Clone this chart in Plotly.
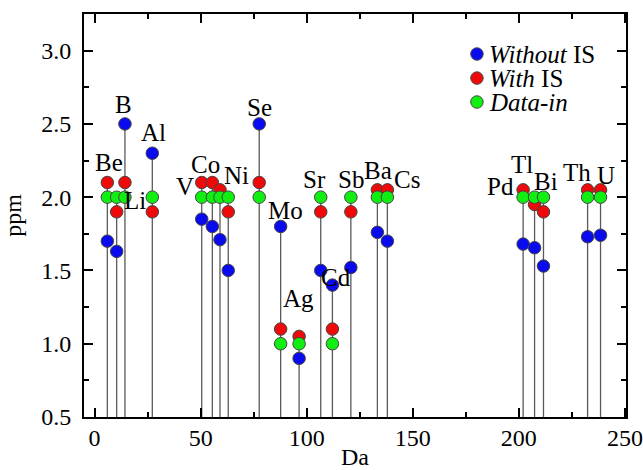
import plotly.graph_objects as go

# Data
mass = [6.0, 10.4, 14.3, 27.2, 50.5, 55.5, 59.1, 63.0, 77.6, 87.7, 96.4,
        106.6, 112.1, 120.8, 133.3, 138.0, 202.0, 207.4, 211.6, 232.4, 238.5]
without_is = [1.70, 1.63, 2.50, 2.30, 1.85, 1.80, 1.71, 1.50, 2.50, 1.80, 0.90,
              1.50, 1.40, 1.52, 1.76, 1.70, 1.68, 1.655, 1.53, 1.73, 1.74]
with_is = [2.10, 1.90, 2.10, 1.90, 2.10, 2.10, 2.05, 1.90, 2.10, 1.10, 1.05,
           1.90, 1.10, 1.90, 2.05, 2.05, 2.05, 1.95, 1.90, 2.05, 2.05]
data_in = [2.0, 2.0, 2.0, 2.0, 2.0, 2.0, 2.0, 2.0, 2.0, 1.0, 1.0,
           2.0, 1.0, 2.0, 2.0, 2.0, 2.0, 2.0, 2.0, 2.0, 2.0]

series_names = ["<i>Without</i> IS", "<i>With</i> IS", "<i>Data-in</i>"]
series_colors = ["#0a0aee", "#ee0a0a", "#11ee11"]

element_labels = ["Be", "B", "Al", "Li", "V", "Co", "Ni", "Se", "Mo", "Ag", "Sr",
                  "Cd", "Sb", "Ba", "Cs", "Pd", "Tl", "Bi", "Th", "U"]
label_x = [6.6, 13.7, 27.8, 18.9, 42.5, 52.4, 67.0, 77.8, 90.0, 96.2, 103.8,
           113.7, 120.8, 133.5, 147.2, 191.3, 201.7, 212.7, 227.4, 241.0]
label_y = [2.24, 2.63, 2.44, 1.98, 2.07, 2.22, 2.15, 2.61, 1.91, 1.31, 2.12,
           1.45, 2.12, 2.18, 2.12, 2.075, 2.22, 2.11, 2.17, 2.15]

x_ticks = [0, 50, 100, 150, 200, 250]
y_ticks = [0.5, 1.0, 1.5, 2.0, 2.5, 3.0]
y_tick_text = ["0.5", "1.0", "1.5", "2.0", "2.5", "3.0"]

FONT = "Liberation Serif"

fig = go.Figure()

# drop lines from the highest value of each column down to the axis
line_x, line_y = [], []
for m, a, b, c in zip(mass, without_is, with_is, data_in):
    line_x += [m, m, None]
    line_y += [max(a, b, c), 0.5, None]
fig.add_trace(go.Scatter(x=line_x, y=line_y, mode="lines",
                         line=dict(color="#5a5a5a", width=1.3),
                         showlegend=False, hoverinfo="skip"))

marker_line = dict(color="#444444", width=1)
for vals, nm, col in zip([without_is, with_is, data_in], series_names, series_colors):
    fig.add_trace(go.Scatter(x=mass, y=vals, mode="markers", name=nm,
                             showlegend=False,
                             marker=dict(size=12.5, color=col, line=marker_line)))

for t, lx, ly in zip(element_labels, label_x, label_y):
    fig.add_annotation(x=lx, y=ly, text=t, showarrow=False,
                       font=dict(family=FONT, size=25, color="black"))

# legend (drawn as shapes + text to match the compact spacing)
leg_y = [0.9007, 0.841, 0.7816]
for nm, col, ly in zip(series_names, series_colors, leg_y):
    fig.add_shape(type="circle", xref="paper", yref="paper",
                  x0=0.725 - 0.0115, x1=0.725 + 0.0115,
                  y0=ly - 0.0155, y1=ly + 0.0155,
                  fillcolor=col, line=dict(color="#444444", width=1))
    fig.add_annotation(xref="paper", yref="paper", x=0.746, y=ly,
                       xanchor="left", yanchor="middle", text=nm, showarrow=False,
                       borderpad=0,
                       font=dict(family=FONT, size=25, color="black"))

axis_common = dict(
    showline=True, linecolor="black", linewidth=2, mirror="ticks",
    ticks="inside", ticklen=9, tickwidth=1.5, tickcolor="black",
    showgrid=False, zeroline=False, automargin=False,
    tickfont=dict(family=FONT, size=24, color="black"),
)

fig.update_layout(
    template="none",
    width=643, height=470,
    margin=dict(l=84, r=17, t=14, b=53),
    plot_bgcolor="white", paper_bgcolor="white",
    font=dict(family=FONT, size=24, color="black"),
    xaxis=dict(range=[-5, 250.5], tickvals=x_ticks,
               ticklabelstandoff=-2,
               minor=dict(dtick=25, tick0=0, ticks="inside", ticklen=5, tickcolor="black", tickwidth=1.5),
               title=dict(text="Da", standoff=9, font=dict(family=FONT, size=24)),
               **axis_common),
    yaxis=dict(range=[0.5, 3.25], tickvals=y_ticks, ticktext=y_tick_text,
               ticklabelstandoff=6,
               minor=dict(dtick=0.25, tick0=0.5, ticks="inside", ticklen=5, tickcolor="black", tickwidth=1.5),
               title=dict(text="ppm", standoff=14, font=dict(family=FONT, size=24)),
               **axis_common),
    showlegend=False,
)

fig.write_html("out.html",
               config={"displayModeBar": False},
               post_script="document.body.style.margin='0';document.body.style.overflow='hidden';")
